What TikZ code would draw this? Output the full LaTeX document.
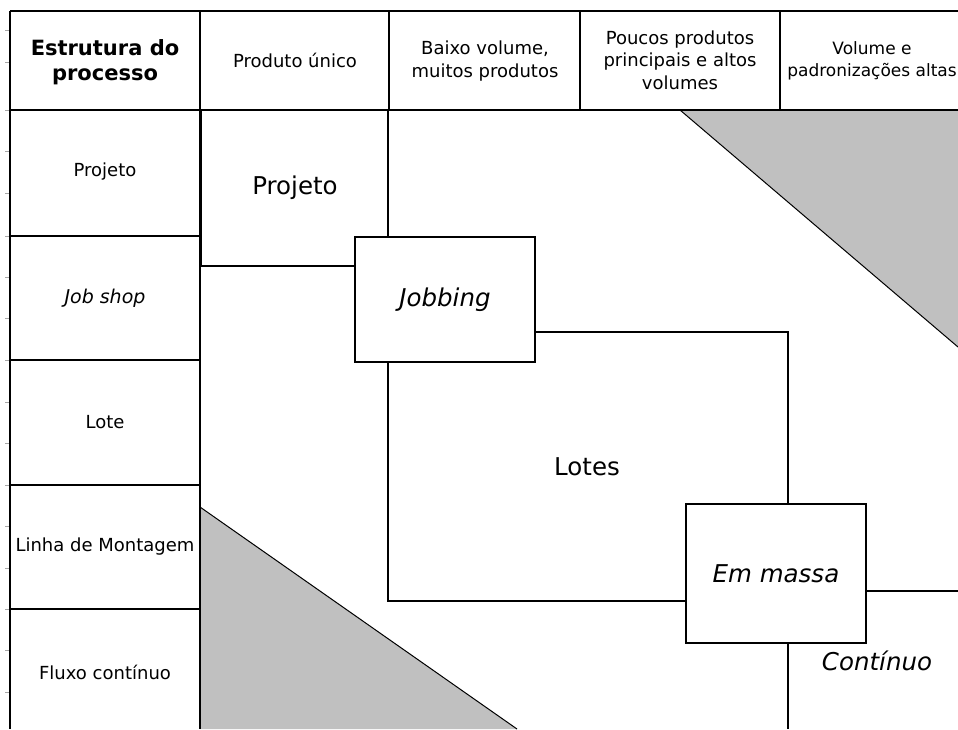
\documentclass[tikz,border=0pt]{standalone}
\usepackage{fontspec}
\setmainfont{DejaVu Sans}
\definecolor{tri}{RGB}{192,192,192}
\begin{document}
\begin{tikzpicture}[x=1pt,y=-1pt,
  grid/.style={line width=1.6pt},
  thickgrid/.style={line width=3pt},
  diag/.style={line width=1pt},
  tick/.style={line width=0.8pt, black!35},
  sm/.style={font=\fontsize{18}{22.5}\selectfont, align=center, inner sep=0pt},
  hd/.style={font=\bfseries\fontsize{21}{25.5}\selectfont, align=center, inner sep=0pt},
  big/.style={font=\fontsize{24.5}{28}\selectfont, inner sep=0pt},
  boxn/.style={draw, line width=1.6pt, minimum width=180pt, minimum height=125pt, inner sep=0pt, fill=white, font=\itshape\fontsize{24.5}{28}\selectfont}]
\useasboundingbox (0,0) rectangle (958,729);
\fill[white] (0,0) rectangle (958,729);
% gray triangles
\fill[tri] (680,110) -- (958,110) -- (958,347) -- cycle;
\draw[diag] (680,110) -- (958,347);
\fill[tri] (200,507) -- (200,729) -- (517,729) -- cycle;
\draw[diag] (200,507) -- (517,729);
% ruler ticks
\foreach \t in {30,62,110,151.5,193,236,277,318,360,402,443,485,526,568,609,650,692}
  \draw[tick] (5,\t) -- (9,\t);
% grid coordinates
\coordinate (hTL) at (10,11);
\coordinate (hTR) at (958,11);
\coordinate (hBL) at (10,110);
\coordinate (hBR) at (958,110);
\coordinate (bL) at (10,729);
\coordinate (c1t) at (200,11);
\coordinate (c1b) at (200,729);
\coordinate (c1m) at (200,110);
\coordinate (c1k) at (200,267);
\coordinate (c2t) at (389,11);
\coordinate (c2b) at (389,110);
\coordinate (c3t) at (580,11);
\coordinate (c3b) at (580,110);
\coordinate (c4t) at (780,11);
\coordinate (c4b) at (780,110);
\draw[grid] (hTL) -- (hTR);
\draw[grid] (hBL) -- (hBR);
\draw[grid] (hTL) -- (bL);
\draw[grid] (c1t) -- (c1b);
\draw[thickgrid] (c1m) -- (c1k);
\draw[grid] (c2t) -- (c2b);
\draw[grid] (c3t) -- (c3b);
\draw[grid] (c4t) -- (c4b);
\foreach \r in {236,360,485,609}
  \draw[grid] (10,\r) -- (200,\r);
% header texts
\node[hd] (h0) at (105,62) {Estrutura do\\processo};
\node[sm] (h1) at (295,60) {Produto único};
\node[sm] (h2) at (485,61) {Baixo volume,\\muitos produtos};
\node[sm] (h3) at (680,60) {Poucos produtos\\principais e altos\\volumes};
\node[sm, font=\fontsize{17}{22.5}\selectfont] (h4) at (872,61) {Volume e\\padronizações altas};
% left column texts
\node[sm] (r1) at (105,172) {Projeto};
\node[sm, font=\itshape\fontsize{19}{22}\selectfont] (r2) at (105,298) {Job shop};
\node[sm] (r3) at (105,422) {Lote};
\node[sm] (r4) at (105,547) {Linha de Montagem};
\node[sm] (r5) at (105,672) {Fluxo contínuo};
% boxes
\node[boxn] (job) at (445,299.5) {Jobbing};
\node[boxn, minimum height=139pt] (mas) at (776,573.5) {Em massa};
% region lines
\coordinate (p1) at (388,110);
\draw[grid] (p1) -- (p1 |- job.north);
\coordinate (p2) at (200,266);
\draw[grid] (p2) -- (p2 -| job.west);
\coordinate (l1) at (788,332);
\draw[grid] (l1 -| job.east) -- (l1) -- (l1 |- mas.north);
\coordinate (l2) at (388,601);
\draw[grid] (l2 |- job.south) -- (l2) -- (l2 -| mas.west);
\coordinate (l3) at (958,591);
\draw[grid] (l3 -| mas.east) -- (l3);
\coordinate (l4) at (788,729);
\draw[grid] (l4 |- mas.south) -- (l4);
% region labels
\node[big] (proj) at (295,188) {Projeto};
\node[big] (lotes) at (587,467) {Lotes};
\node[big, font=\itshape\fontsize{24.5}{28}\selectfont] (cont) at (877,661) {Contínuo};
\end{tikzpicture}
\end{document}
